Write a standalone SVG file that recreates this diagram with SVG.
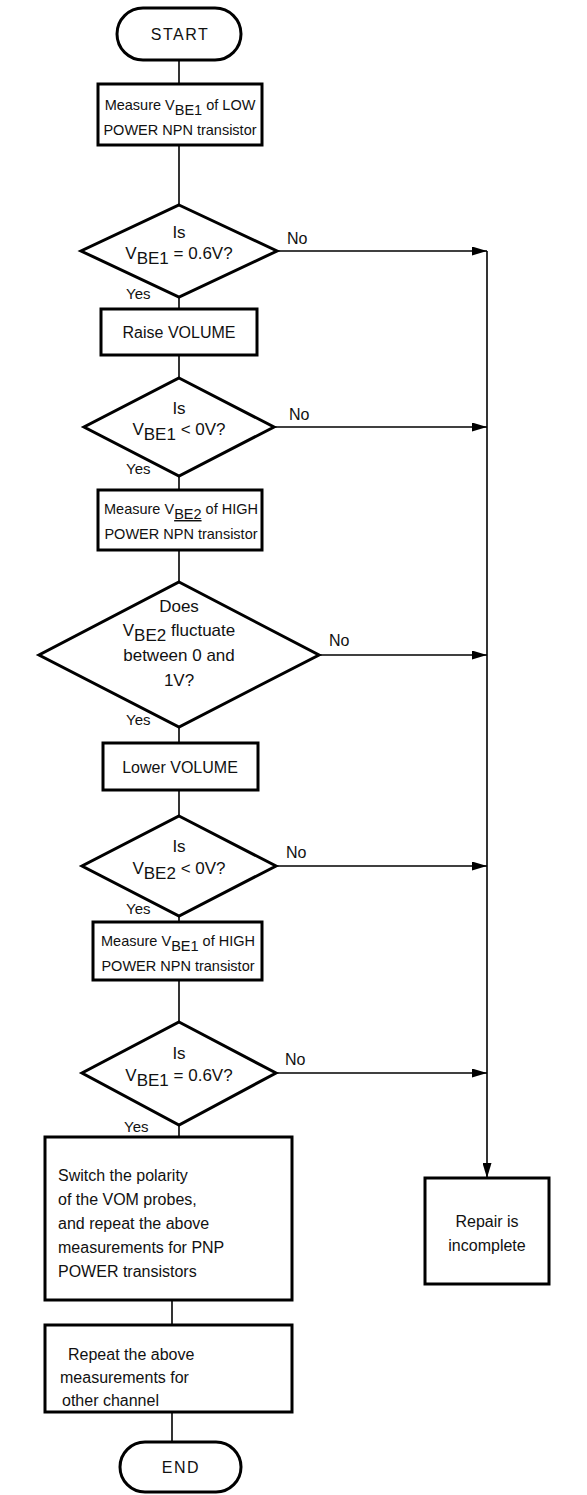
<svg xmlns="http://www.w3.org/2000/svg" width="587" height="1495" viewBox="0 0 587 1495">
<defs>
<marker id="arr" viewBox="0 0 15 9" refX="15" refY="4.5" markerWidth="15" markerHeight="9" markerUnits="userSpaceOnUse" orient="auto"><path d="M0,0 L15,4.5 L0,9 Z" fill="#000"/></marker>
<style>
.s{fill:#fff;stroke:#000;stroke-width:3;stroke-linejoin:miter}
.c{fill:none;stroke:#000;stroke-width:1.6}
text{font-family:"Liberation Sans",Arial,sans-serif;font-size:15px;fill:#111}
.m{text-anchor:middle}
.t{font-size:16px;letter-spacing:1.5px}
.b{font-size:14.5px}
.d{font-size:17px}
.l{font-size:16px}
.n{font-size:16px}
</style>
</defs>
<rect width="587" height="1495" fill="#fff"/>
<g id="connectors">
<path class="c" d="M179,60 V84"/>
<path class="c" d="M179,145 V205"/>
<path class="c" d="M179,297 V309"/>
<path class="c" d="M179,355 V378"/>
<path class="c" d="M179,476 V490"/>
<path class="c" d="M179,550 V582"/>
<path class="c" d="M179,727 V743"/>
<path class="c" d="M179,790 V816"/>
<path class="c" d="M179,916 V922"/>
<path class="c" d="M179,980 V1022"/>
<path class="c" d="M179,1125 V1137"/>
<path class="c" d="M172,1300 V1325"/>
<path class="c" d="M172,1412 V1442"/>
<path class="c" d="M277,251 H487" marker-end="url(#arr)"/>
<path class="c" d="M274,427 H487" marker-end="url(#arr)"/>
<path class="c" d="M319,655 H487" marker-end="url(#arr)"/>
<path class="c" d="M276,866 H487" marker-end="url(#arr)"/>
<path class="c" d="M276,1073 H487" marker-end="url(#arr)"/>
<path class="c" d="M487,251 V1178" marker-end="url(#arr)"/>
<text class="n" x="287" y="244">No</text>
<text class="n" x="289" y="420">No</text>
<text class="n" x="329" y="646">No</text>
<text class="n" x="286" y="858">No</text>
<text class="n" x="285" y="1065">No</text>
<text x="126" y="299">Yes</text>
<text x="126" y="474">Yes</text>
<text x="126" y="725">Yes</text>
<text x="126" y="914">Yes</text>
<text x="124" y="1132">Yes</text>
</g>
<g id="start">
<rect class="s" x="117" y="8" width="124" height="52" rx="26"/>
<text class="m t" x="180" y="40">START</text>
</g>
<g id="measure1">
<rect class="s" x="98" y="84" width="164" height="61"/>
<text class="m b" x="180" y="110">Measure V<tspan dy="5">BE1</tspan><tspan dy="-5"> of LOW</tspan></text>
<text class="m b" x="180" y="135">POWER NPN transistor</text>
</g>
<g id="d1">
<polygon class="s" points="179,205 277,251 179,297 81,251"/>
<text class="m d" x="179" y="238">Is</text>
<text class="m d" x="179" y="259">V<tspan dy="5">BE1</tspan><tspan dy="-5"> = 0.6V?</tspan></text>
</g>
<g id="raise">
<rect class="s" x="101" y="309" width="156" height="46"/>
<text class="m l" x="179" y="338">Raise VOLUME</text>
</g>
<g id="d2">
<polygon class="s" points="179,378 274,427 179,476 84,427"/>
<text class="m d" x="179" y="414">Is</text>
<text class="m d" x="179" y="435">V<tspan dy="5">BE1</tspan><tspan dy="-5"> &lt; 0V?</tspan></text>
</g>
<g id="measure2">
<rect class="s" x="98" y="490" width="164" height="60"/>
<text class="m b" x="181" y="514">Measure V<tspan dy="5" text-decoration="underline">BE2</tspan><tspan dy="-5"> of HIGH</tspan></text>
<text class="m b" x="181" y="539">POWER NPN transistor</text>
</g>
<g id="d3">
<polygon class="s" points="179,582 319,655 179,727 39,655"/>
<text class="m d" x="179" y="612">Does</text>
<text class="m d" x="179" y="636">V<tspan dy="5">BE2</tspan><tspan dy="-5"> fluctuate</tspan></text>
<text class="m d" x="179" y="661">between 0 and</text>
<text class="m d" x="179" y="686">1V?</text>
</g>
<g id="lower">
<rect class="s" x="103" y="743" width="155" height="47"/>
<text class="m l" x="180" y="773">Lower VOLUME</text>
</g>
<g id="d4">
<polygon class="s" points="179,816 276,866 179,916 82,866"/>
<text class="m d" x="179" y="852">Is</text>
<text class="m d" x="179" y="874">V<tspan dy="5">BE2</tspan><tspan dy="-5"> &lt; 0V?</tspan></text>
</g>
<g id="measure3">
<rect class="s" x="93" y="922" width="169" height="58"/>
<text class="m b" x="178" y="946">Measure V<tspan dy="5">BE1</tspan><tspan dy="-5"> of HIGH</tspan></text>
<text class="m b" x="178" y="971">POWER NPN transistor</text>
</g>
<g id="d5">
<polygon class="s" points="179,1022 276,1073 179,1125 82,1073"/>
<text class="m d" x="179" y="1059">Is</text>
<text class="m d" x="179" y="1081">V<tspan dy="5">BE1</tspan><tspan dy="-5"> = 0.6V?</tspan></text>
</g>
<g id="switch">
<rect class="s" x="45" y="1137" width="247" height="163"/>
<text class="l" x="58" y="1181">Switch the polarity</text>
<text class="l" x="58" y="1205">of the VOM probes,</text>
<text class="l" x="58" y="1229">and repeat the above</text>
<text class="l" x="58" y="1253">measurements for PNP</text>
<text class="l" x="58" y="1277">POWER transistors</text>
</g>
<g id="repeat">
<rect class="s" x="45" y="1325" width="247" height="87"/>
<text class="l" x="68" y="1360">Repeat the above</text>
<text class="l" x="60" y="1383">measurements for</text>
<text class="l" x="62" y="1406">other channel</text>
</g>
<g id="end">
<rect class="s" x="120" y="1442" width="121" height="50" rx="25"/>
<text class="m t" x="181" y="1473">END</text>
</g>
<g id="repair">
<rect class="s" x="425" y="1178" width="124" height="106"/>
<text class="m l" x="487" y="1227">Repair is</text>
<text class="m l" x="487" y="1251">incomplete</text>
</g>
</svg>
